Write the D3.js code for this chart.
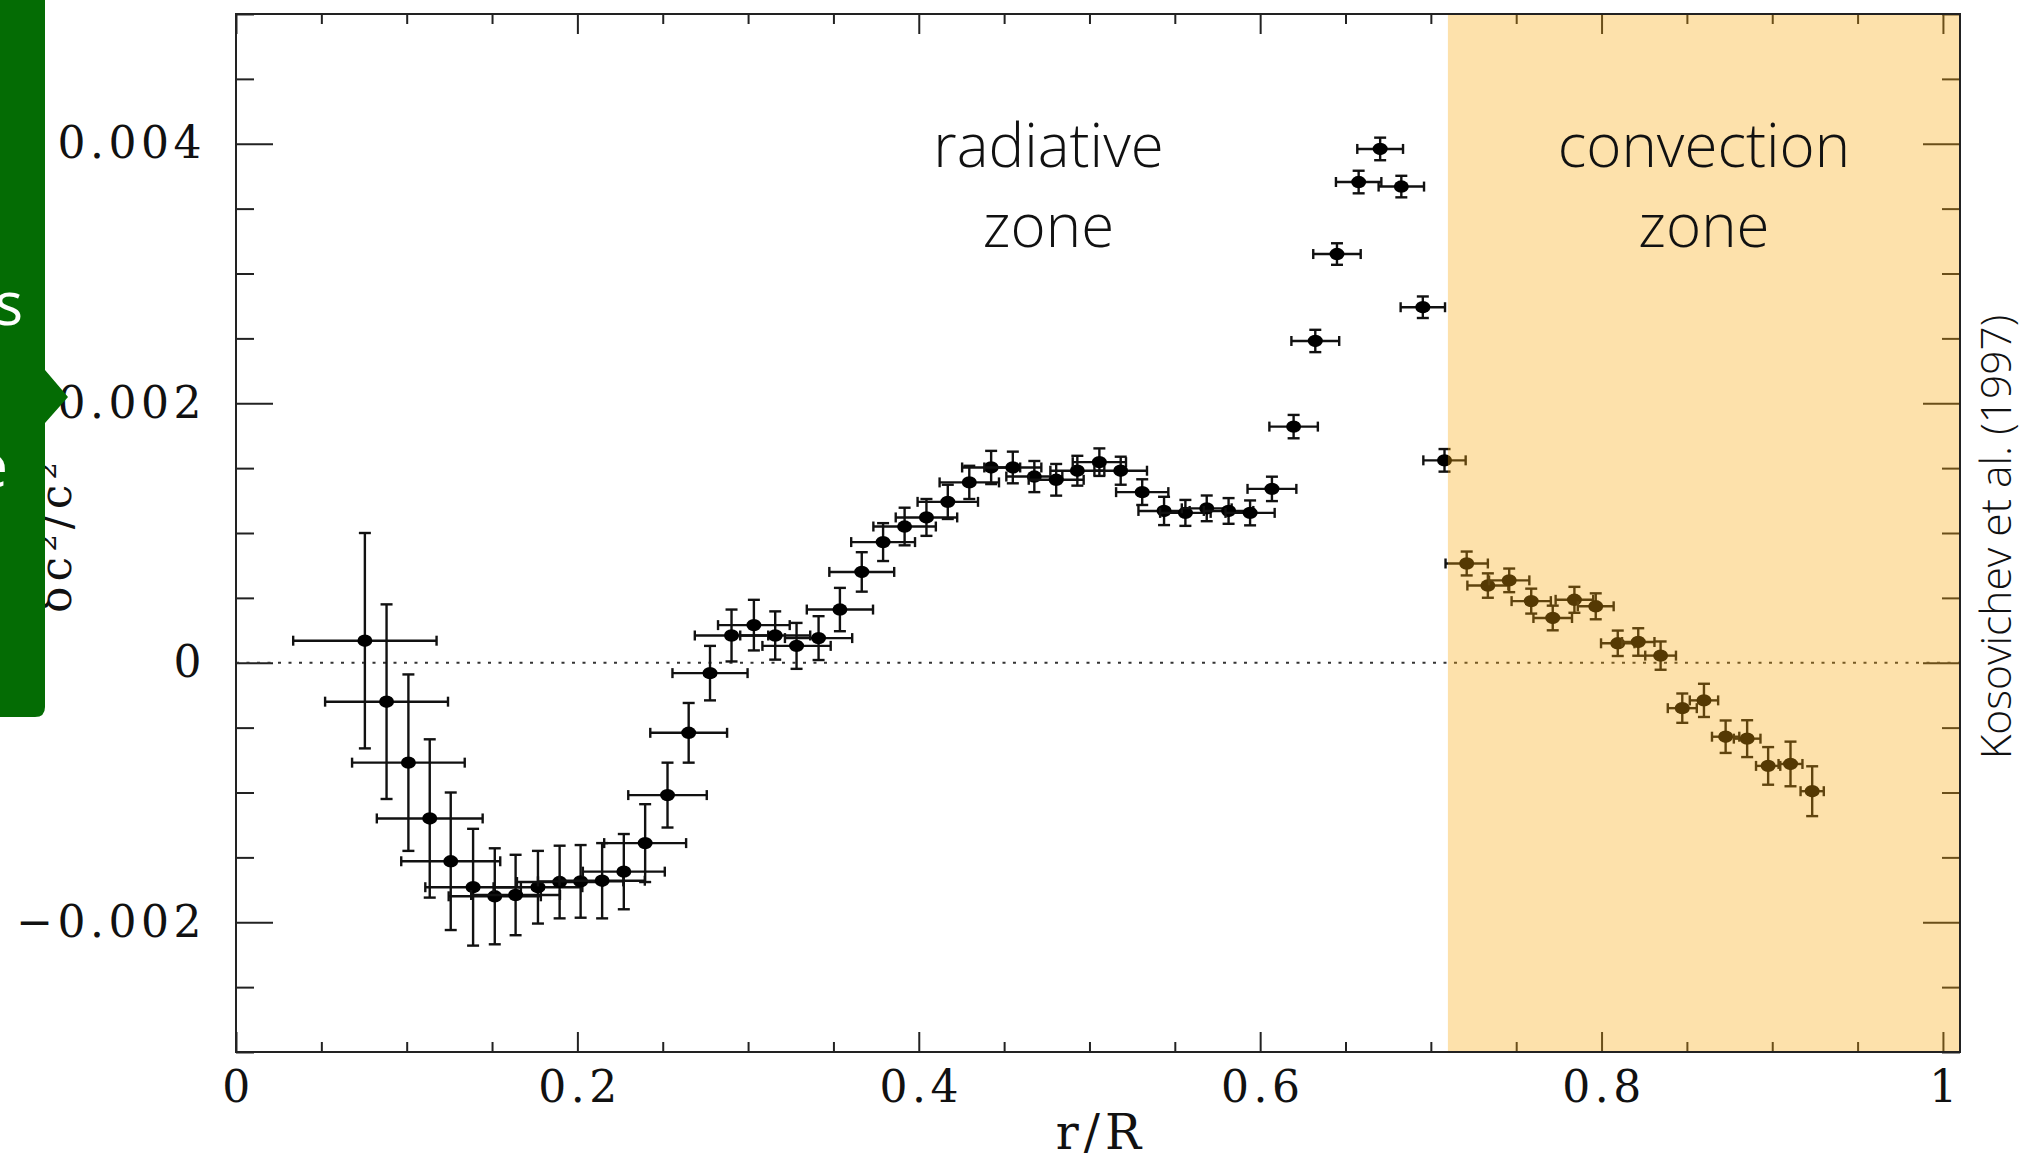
<!DOCTYPE html>
<html>
<head>
    <meta charset="utf-8">
    <title>Sound speed difference</title>
    <script src="https://cdnjs.cloudflare.com/ajax/libs/d3/7.8.5/d3.min.js"></script>
    <style type="text/css">
    body {
        margin: 0;
        background: #fff;
    }
    svg {
        display: block;
    }
    .axis path.domain {
        display: none;
    }
    .axis line {
        stroke: #222;
        stroke-width: 2px;
    }
    .axis text {
        font-family: "DejaVu Serif", serif;
        font-size: 44px;
        letter-spacing: 4.5px;
        fill: #111;
    }
    .frame {
        fill: none;
        stroke: #222;
        stroke-width: 2px;
    }
    .zero {
        stroke: #333;
        stroke-width: 2px;
        stroke-dasharray: 3 7.5;
    }
    .bar {
        stroke: #111;
        stroke-width: 2.4px;
    }
    .dot {
        fill: #000;
    }
    .zone-label {
        font-family: "Open Sans", sans-serif;
        font-weight: 300;
        font-size: 60px;
        fill: #111;
    }
    </style>
</head>
<body>
<script>

// r/R of each measurement and its half width
var radius = [0.0755, 0.0882, 0.1010, 0.1135, 0.1258, 0.1389, 0.1516, 0.1638, 0.1769, 0.1896,
    0.2019, 0.2145, 0.2272, 0.2397, 0.2528, 0.2652, 0.2777, 0.2903, 0.3034, 0.3159,
    0.3284, 0.3413, 0.3538, 0.3666, 0.3791, 0.3917, 0.4045, 0.4170, 0.4296, 0.4424,
    0.4551, 0.4677, 0.4805, 0.4929, 0.5058, 0.5183, 0.5309, 0.5437, 0.5562, 0.5687,
    0.5815, 0.5941, 0.6069, 0.6196, 0.6323, 0.6450, 0.6577, 0.6703, 0.6827, 0.6953,
    0.7080, 0.7210, 0.7334, 0.7459, 0.7588, 0.7714, 0.7841, 0.7966, 0.8095, 0.8215,
    0.8346, 0.8473, 0.8600, 0.8727, 0.8853, 0.8976, 0.9107, 0.9234];
var radiusErr = [0.042, 0.036, 0.033, 0.031, 0.029, 0.028, 0.027, 0.026, 0.026, 0.025,
    0.025, 0.025, 0.024, 0.024, 0.023, 0.0225, 0.022, 0.0215, 0.021, 0.0205,
    0.020, 0.0197, 0.0194, 0.019, 0.0187, 0.0183, 0.018, 0.0177, 0.0174, 0.017,
    0.0167, 0.0164, 0.0161, 0.0158, 0.0156, 0.0154, 0.0153, 0.015, 0.0148, 0.0146,
    0.0145, 0.0144, 0.0143, 0.0142, 0.014, 0.0139, 0.0133, 0.0134, 0.0133, 0.013,
    0.0124, 0.0124, 0.012, 0.0118, 0.0115, 0.0113, 0.011, 0.0105, 0.0098, 0.0095,
    0.009, 0.0085, 0.0083, 0.008, 0.0078, 0.0071, 0.007, 0.0068];

// delta c^2 / c^2, in units of 0.001
var dc2 = [0.17, -0.30, -0.77, -1.20, -1.53, -1.73, -1.80, -1.79, -1.73, -1.69,
    -1.685, -1.68, -1.61, -1.39, -1.02, -0.54, -0.08, 0.21, 0.29, 0.21,
    0.13, 0.19, 0.41, 0.70, 0.93, 1.05, 1.12, 1.24, 1.39, 1.505,
    1.505, 1.435, 1.41, 1.48, 1.546, 1.48, 1.315, 1.17, 1.155, 1.19,
    1.17, 1.155, 1.34, 1.82, 2.48, 3.15, 3.705, 3.96, 3.67, 2.74,
    1.56, 0.765, 0.595, 0.635, 0.475, 0.345, 0.485, 0.435, 0.15, 0.16,
    0.055, -0.35, -0.29, -0.57, -0.585, -0.795, -0.78, -0.99];
var dc2Err = [0.83, 0.75, 0.68, 0.61, 0.53, 0.45, 0.37, 0.31, 0.28, 0.28,
    0.28, 0.29, 0.29, 0.30, 0.25, 0.23, 0.21, 0.20, 0.195, 0.186,
    0.177, 0.169, 0.167, 0.152, 0.146, 0.145, 0.142, 0.132, 0.128, 0.128,
    0.122, 0.12, 0.122, 0.115, 0.106, 0.108, 0.099, 0.109, 0.10, 0.099,
    0.099, 0.096, 0.094, 0.09, 0.086, 0.083, 0.087, 0.087, 0.083, 0.083,
    0.087, 0.092, 0.094, 0.091, 0.096, 0.095, 0.10, 0.10, 0.098, 0.106,
    0.109, 0.113, 0.128, 0.125, 0.142, 0.145, 0.172, 0.192];

var xTickValues = [0, 0.2, 0.4, 0.6, 0.8, 1];
var xTickLabels = ["0", "0.2", "0.4", "0.6", "0.8", "1"];
var yTickValues = [-2, 0, 2, 4];
var yTickLabels = ["\u22120.002", "0", "0.002", "0.004"];

var convectionBase = 0.71;

var data = radius.map(function(r, i) {
    return {r: r, er: radiusErr[i], v: dc2[i], ev: dc2Err[i]};
});

var W = 2019, H = 1162;
var margin = {top: 14, right: 59, bottom: 110, left: 236},
    width = W - margin.left - margin.right,
    height = H - margin.top - margin.bottom;

var x = d3.scaleLinear().domain([0, 1.01]).range([0, width]);
var y = d3.scaleLinear().domain([-3, 5]).range([height, 0]);

var svg = d3.select("body").append("svg")
    .attr("width", W)
    .attr("height", H);

var g = svg.append("g")
    .attr("transform", "translate(" + margin.left + "," + margin.top + ")");

// ticks, all pointing inwards
var xMinor = d3.range(0.05, 1.001, 0.05).filter(function(d) {
    return Math.abs(d * 5 - Math.round(d * 5)) > 1e-6;
});
var yMinor = d3.range(-3, 5.001, 0.5).filter(function(d) {
    return Math.abs(d / 2 - Math.round(d / 2)) > 1e-6;
});

g.append("g").attr("class", "axis")
    .attr("transform", "translate(0," + height + ")")
    .call(d3.axisBottom(x).tickValues(xTickValues).tickSize(-20).tickPadding(19)
        .tickFormat(function(d, i) { return xTickLabels[i]; }))
    .selectAll("text").attr("dx", "2px");
g.append("g").attr("class", "axis")
    .attr("transform", "translate(0," + height + ")")
    .call(d3.axisBottom(x).tickValues(xMinor).tickSize(-10).tickFormat(""));
g.append("g").attr("class", "axis")
    .call(d3.axisTop(x).tickValues(xTickValues).tickSize(-20).tickFormat(""));
g.append("g").attr("class", "axis")
    .call(d3.axisTop(x).tickValues(xMinor).tickSize(-10).tickFormat(""));

g.append("g").attr("class", "axis")
    .call(d3.axisLeft(y).tickValues(yTickValues).tickSize(-37).tickPadding(30)
        .tickFormat(function(d, i) { return yTickLabels[i]; }));
g.append("g").attr("class", "axis")
    .call(d3.axisLeft(y).tickValues(yMinor).tickSize(-18).tickFormat(""));
g.append("g").attr("class", "axis")
    .attr("transform", "translate(" + width + ",0)")
    .call(d3.axisRight(y).tickValues(yTickValues).tickSize(-37).tickFormat(""));
g.append("g").attr("class", "axis")
    .attr("transform", "translate(" + width + ",0)")
    .call(d3.axisRight(y).tickValues(yMinor).tickSize(-18).tickFormat(""));

g.append("line")
    .attr("class", "zero")
    .attr("x1", 0).attr("x2", width)
    .attr("y1", y(0)).attr("y2", y(0));

// error bars
var cap = 5;
var bars = g.append("g").selectAll("g")
    .data(data)
    .enter().append("g");

bars.append("line").attr("class", "bar")
    .attr("x1", function(d) { return x(d.r - d.er); })
    .attr("x2", function(d) { return x(d.r + d.er); })
    .attr("y1", function(d) { return y(d.v); })
    .attr("y2", function(d) { return y(d.v); });
bars.append("line").attr("class", "bar")
    .attr("x1", function(d) { return x(d.r); })
    .attr("x2", function(d) { return x(d.r); })
    .attr("y1", function(d) { return y(d.v - d.ev); })
    .attr("y2", function(d) { return y(d.v + d.ev); });
[-1, 1].forEach(function(s) {
    bars.append("line").attr("class", "bar")
        .attr("x1", function(d) { return x(d.r + s * d.er); })
        .attr("x2", function(d) { return x(d.r + s * d.er); })
        .attr("y1", function(d) { return y(d.v) - cap; })
        .attr("y2", function(d) { return y(d.v) + cap; });
    bars.append("line").attr("class", "bar")
        .attr("x1", function(d) { return x(d.r) - cap - 1; })
        .attr("x2", function(d) { return x(d.r) + cap + 1; })
        .attr("y1", function(d) { return y(d.v + s * d.ev); })
        .attr("y2", function(d) { return y(d.v + s * d.ev); });
});

bars.append("ellipse").attr("class", "dot")
    .attr("cx", function(d) { return x(d.r); })
    .attr("cy", function(d) { return y(d.v); })
    .attr("rx", 7.5)
    .attr("ry", 6.2);

// convection zone shading sits over the points
g.append("rect")
    .attr("x", x(convectionBase))
    .attr("y", 0)
    .attr("width", width - x(convectionBase) - 1)
    .attr("height", height)
    .attr("fill", "rgb(250,168,10)")
    .attr("fill-opacity", 0.34);

g.append("rect")
    .attr("class", "frame")
    .attr("width", width)
    .attr("height", height);

// zone labels
var radLabel = g.append("text").attr("class", "zone-label")
    .attr("text-anchor", "middle");
radLabel.append("tspan").attr("x", x(0.476)).attr("y", 153).text("radiative");
radLabel.append("tspan").attr("x", x(0.476)).attr("y", 233).text("zone");

var cx = (x(convectionBase) + width) / 2;
var convLabel = g.append("text").attr("class", "zone-label")
    .attr("text-anchor", "middle");
convLabel.append("tspan").attr("x", cx).attr("y", 153).text("convection");
convLabel.append("tspan").attr("x", cx).attr("y", 233).text("zone");

// axis titles
svg.append("text")
    .attr("x", margin.left + width / 2 + 3)
    .attr("y", 1149)
    .attr("text-anchor", "middle")
    .style("font-family", "DejaVu Serif, serif")
    .style("font-size", "48px")
    .style("letter-spacing", "5px")
    .style("fill", "#111")
    .text("r/R");

svg.append("text")
    .attr("transform", "translate(71," + (margin.top + height / 2 + 2) + ") rotate(-90)")
    .attr("text-anchor", "middle")
    .style("font-family", "DejaVu Serif, serif")
    .style("font-size", "44px")
    .style("letter-spacing", "5px")
    .style("fill", "#111")
    .text("\u03b4c\u00b2/c\u00b2");

svg.append("text")
    .attr("transform", "translate(2011,537) rotate(-90)")
    .attr("text-anchor", "middle")
    .style("font-family", "Open Sans, sans-serif")
    .style("font-weight", 300)
    .style("font-size", "42.5px")
    .style("fill", "#111")
    .text("Kosovichev et al. (1997)");

// green callout clipped at the page edge
svg.append("path")
    .attr("d", "M0,0 H45 V370 L68,397 L45,423 V707 Q45,717 35,717 H0 Z")
    .attr("fill", "#046c04");
svg.append("text")
    .attr("x", 23).attr("y", 325)
    .attr("text-anchor", "end")
    .style("font-family", "Open Sans, sans-serif")
    .style("font-size", "60px")
    .style("fill", "#fff")
    .text("s");
svg.append("text")
    .attr("x", 8).attr("y", 487)
    .attr("text-anchor", "end")
    .style("font-family", "Open Sans, sans-serif")
    .style("font-size", "60px")
    .style("fill", "#fff")
    .text("e");

</script>
</body>
</html>
